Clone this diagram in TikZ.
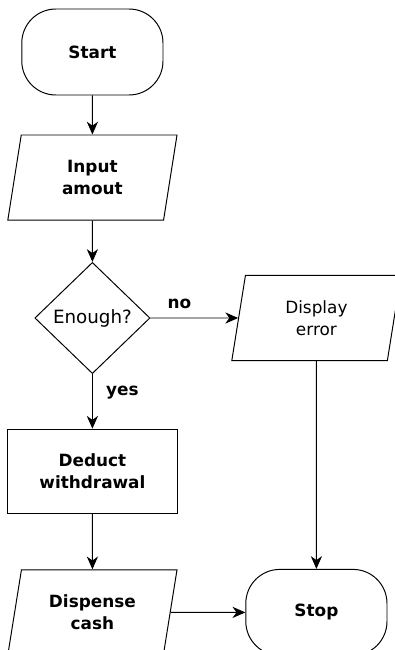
\documentclass[tikz,border=0pt]{standalone}
\usepackage{fontspec}
\setmainfont{DejaVu Sans}
\usetikzlibrary{shapes.geometric, arrows.meta}
\definecolor{ink}{RGB}{0, 0, 0}
\tikzset{
  base/.style      = {draw=ink, line width=0.7pt, align=center, inner sep=0pt,
                      font=\bfseries\fontsize{12}{16}\selectfont},
  terminal/.style  = {base, rectangle, rounded corners=0.85cm, minimum width=3.53cm, minimum height=2.15cm},
  io/.style        = {base, trapezium, trapezium left angle=69, trapezium right angle=111,
                      trapezium stretches body, minimum width=4.23cm, minimum height=2.13cm},
  process/.style   = {base, rectangle, minimum width=4.23cm, minimum height=2.10cm},
  decision/.style  = {base, diamond, minimum width=2.88cm, minimum height=2.78cm,
                      font=\fontsize{13}{16}\selectfont},
  flow/.style      = {draw=ink, line width=0.7pt, -{Stealth[length=3.2mm, width=2.8mm, inset=1mm]}},
  edgelabel/.style = {font=\bfseries\fontsize{12}{16}\selectfont, inner sep=0pt}
}
\begin{document}
\begin{tikzpicture}
            \useasboundingbox (0.00, 0.00) rectangle (9.875, -16.25);
            \node[terminal] (start)    at (2.31, -1.30)  {Start};
            \node[io]       (input)    at (2.31, -4.44)  {Input\\amout};
            \node[decision] (enough)   at (2.31, -7.95)  {Enough?};
            \node[io]       (error)    at (7.91, -7.95)  {\mdseries Display\\\mdseries error};
            \node[process]  (deduct)   at (2.31, -11.78) {Deduct\\withdrawal};
            \node[io]       (dispense) at (2.31, -15.31) {Dispense\\cash};
            \node[terminal] (stop)     at (7.91, -15.31) {Stop};
            \draw[flow] (start)    -- (input);
            \draw[flow] (input)    -- (enough);
            \draw[flow] (enough)   -- node[edgelabel, pos=0.33, above=0.22cm] {no}  (error);
            \draw[flow] (enough)   -- node[edgelabel, pos=0.33, right=0.33cm] {yes} (deduct);
            \draw[flow] (deduct)   -- (dispense);
            \draw[flow] (dispense) -- (stop);
            \draw[flow] (error)    -- (stop);
\end{tikzpicture}
\end{document}
